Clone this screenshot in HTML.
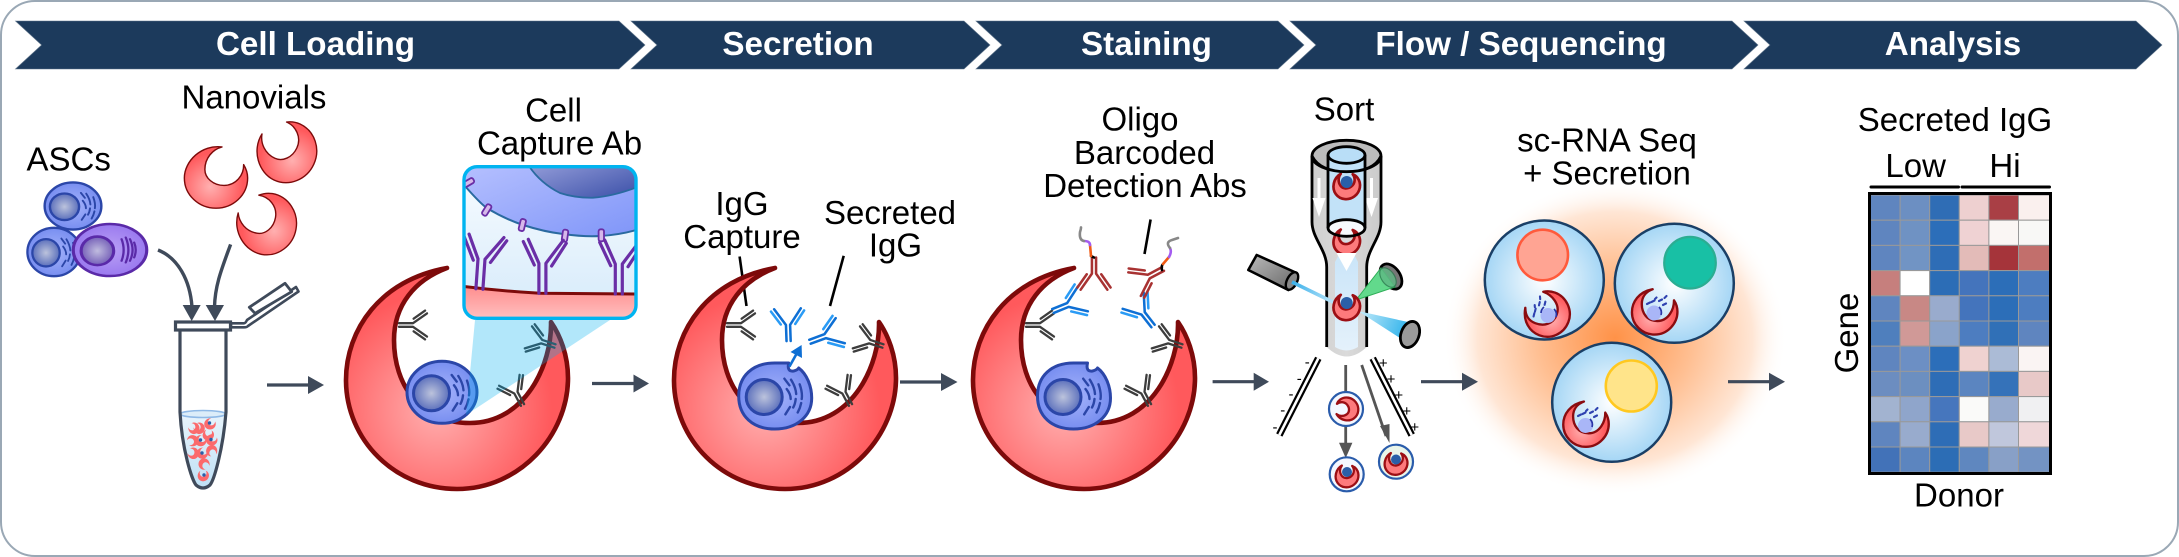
<!DOCTYPE html>
<html><head><meta charset="utf-8"><style>
html,body{margin:0;padding:0;background:#fff}
svg{display:block}
text{font-family:"Liberation Sans",sans-serif;fill:#000;font-size:33px}
.b{font-weight:bold;fill:#fff;font-size:33.2px}
.m{text-anchor:middle}
</style></head><body>
<svg width="2179" height="557" viewBox="0 0 2179 557" xmlns="http://www.w3.org/2000/svg">
<defs>
<radialGradient id="nv" gradientUnits="userSpaceOnUse" cx="-20" cy="30" r="115"><stop offset="0" stop-color="#ffb0b0"/><stop offset="1" stop-color="#ff595c"/></radialGradient>
<radialGradient id="cellg" cx=".5" cy=".5" r=".6"><stop offset="0" stop-color="#a5b3fb"/><stop offset="1" stop-color="#6f87ee"/></radialGradient>
<radialGradient id="purg" cx=".5" cy=".5" r=".6"><stop offset="0" stop-color="#b9a0f5"/><stop offset="1" stop-color="#9472ee"/></radialGradient>
<radialGradient id="nuc"><stop offset="0" stop-color="#bcc3dc"/><stop offset="1" stop-color="#5c70bc"/></radialGradient>
<radialGradient id="nucp"><stop offset="0" stop-color="#c0bcdf"/><stop offset="1" stop-color="#7560b8"/></radialGradient>
<radialGradient id="glow" gradientUnits="userSpaceOnUse" cx="0" cy="0" r="1"><stop offset="0" stop-color="#ff9248"/><stop offset=".45" stop-color="#ffbf92"/><stop offset=".8" stop-color="#ffe6d5"/><stop offset="1" stop-color="#fff" stop-opacity="0"/></radialGradient>
<radialGradient id="well"><stop offset="0" stop-color="#fff"/><stop offset="1" stop-color="#a5d6f5"/></radialGradient>
<linearGradient id="insbg" x1="0" y1="0" x2="0" y2="1"><stop offset="0" stop-color="#f8fcff"/><stop offset="1" stop-color="#d5eafa"/></linearGradient>
<linearGradient id="insc" x1="0" y1="0" x2="1" y2="1"><stop offset="0" stop-color="#b8c2ff"/><stop offset="1" stop-color="#7f95f8"/></linearGradient>
<linearGradient id="insn" x1="0" y1="0" x2="1" y2="1"><stop offset="0" stop-color="#9aa2dc"/><stop offset="1" stop-color="#3a4fa8"/></linearGradient>
<linearGradient id="insr" x1="0" y1="0" x2="0" y2="1"><stop offset="0" stop-color="#ff8d8d"/><stop offset="1" stop-color="#ffcaca"/></linearGradient>
<linearGradient id="liq" x1="0" y1="0" x2="0" y2="1"><stop offset="0" stop-color="#e8f4fc"/><stop offset="1" stop-color="#bfe0f5"/></linearGradient>
<linearGradient id="lasg" x1="0" y1="0" x2="1" y2="1"><stop offset="0" stop-color="#bbb"/><stop offset="1" stop-color="#666"/></linearGradient>
<linearGradient id="scat" gradientUnits="userSpaceOnUse" x1="1358" y1="310" x2="1405" y2="330"><stop offset="0" stop-color="#c8ecfa"/><stop offset="1" stop-color="#38b6ec"/></linearGradient>
<linearGradient id="beam" gradientUnits="userSpaceOnUse" x1="1292" y1="282" x2="1335" y2="302"><stop offset="0" stop-color="#3ab0ea"/><stop offset="1" stop-color="#bde6fa"/></linearGradient>
<linearGradient id="tubeg" x1="0" y1="0" x2="1" y2="0"><stop offset="0" stop-color="#cfcfcf"/><stop offset=".5" stop-color="#dadada"/><stop offset="1" stop-color="#cbcbcb"/></linearGradient>
<linearGradient id="strm" x1="0" y1="0" x2="0" y2="1"><stop offset="0" stop-color="#c6e3f8"/><stop offset="1" stop-color="#e4f1fb"/></linearGradient>
<clipPath id="insclip"><rect x="464" y="166.7" width="172" height="151.6" rx="13"/></clipPath>

<path id="cres" d="M-10 -111C-77 -99 -111 -49 -111 1C-111 61 -62 110 0 110C63 110 111 56 111 -1C111 -24 103 -44 94 -57C95 -14 68 44 13 44C-37 44 -63 6 -63 -39C-63 -74 -42 -99 -10 -111Z" stroke-linejoin="round"/>
<path id="cres2" d="M21 -109C-50 -118 -111 -60 -111 0C-111 60 -60 106 0 106C60 106 111 60 111 0C111 -18 105 -34 97 -47C98 -10 70 26 28 26C-10 26 -39 0 -39 -30C-39 -70 -12 -100 21 -109Z" stroke-linejoin="round"/>
<g id="nano"><use href="#cres" fill="url(#nv)" stroke="#7d0a0a" stroke-width="4.6"/></g>
<g id="gol" fill="none" stroke="#2b46a8" stroke-width="2.4" stroke-linecap="round">
<path d="M9.7 -17.3L14.7 -10.7M16.3 -16.3Q21 -9 21.5 -2M21 3Q20.5 8 18.5 11.5M25 -11.7Q28 -3 27 3M26.5 7Q25.5 12 23 16.5M12 -7Q16 -2 16 3M15.3 11L10.7 18.3"/>
</g>
<g id="cell">
<ellipse cx="0" cy="0" rx="35" ry="31" fill="url(#cellg)" stroke="#2b46a8" stroke-width="3"/>
<ellipse cx="-10.5" cy="1" rx="18" ry="17.5" fill="url(#nuc)" stroke="#2b46a8" stroke-width="3"/>
<use href="#gol"/>
</g>
<g id="cellp">
<ellipse cx="0" cy="0" rx="35" ry="31" fill="url(#purg)" stroke="#5a2aa8" stroke-width="3"/>
<ellipse cx="-12" cy="1" rx="15.5" ry="17" fill="url(#nucp)" stroke="#5a2aa8" stroke-width="3"/>
<g fill="none" stroke="#5a2aa8" stroke-width="2.2" stroke-linecap="round"><path d="M11 -13Q15 0 11 13M15 -15Q20 0 15 15M19 -13Q24 0 19 13M23 -9Q26 0 23 9"/></g>
</g>
<g id="cellN">
<path d="M-36 0C-36 -20 -22 -33 0 -33C6 -33 11 -33 14 -33Q12 -24 19 -25Q23 -26 24 -28C32 -22 37 -10 37 2C37 20 22 33 0 33C-22 33 -36 20 -36 0Z" fill="url(#cellg)" stroke="#2b46a8" stroke-width="3" stroke-linejoin="round"/>
<ellipse cx="-10.5" cy="1" rx="18" ry="17.5" fill="url(#nuc)" stroke="#2b46a8" stroke-width="3"/>
<use href="#gol"/>
</g>
<path id="abh" fill="none" stroke-linecap="round" stroke-linejoin="round" d="M-1.8 0V-14L-11.6 -28M1.8 0V-14L11.6 -28"/>
<path id="abl" fill="none" stroke-linecap="round" d="M-6.3 -14.6L-14.4 -26.1M6.3 -14.6L14.4 -26.1"/>
<g id="abg" stroke="#3d3d3d" stroke-width="2.3"><use href="#abh"/><use href="#abl"/></g>
<g id="abb"><use href="#abh" stroke="#0e6fd4" stroke-width="2.2"/><use href="#abl" stroke="#2a9bf5" stroke-width="2.2"/></g>
<g id="abr" stroke="#a83232" stroke-width="2.2"><use href="#abh"/><use href="#abl"/></g>
<path id="abp" fill="none" stroke="#6a2ea6" stroke-width="3.2" stroke-linecap="round" stroke-linejoin="round" d="M-3.4 0V-30L-14 -54M3.6 0V-30L21 -53M-8 -28.3L-19 -51.7M9.3 -27.3L24 -50"/>
<g id="grays">
<use href="#abg" transform="translate(399 325) rotate(90)"/>
<use href="#abg" transform="translate(555 346) rotate(-72)"/>
<use href="#abg" transform="translate(522.5 405) rotate(-28)"/>
</g>
<g id="mini"><use href="#cres2" fill="#fd7a7c" stroke="#9c0f14" stroke-width="22" transform="rotate(-37) scale(.122)"/></g>
<use id="tm" href="#cres2" fill="#fb6a6c" transform="scale(.052)"/>
<g id="wdots" fill="none" stroke="#2f42b0" stroke-width="2.1" stroke-linecap="round">
<path d="M-9 -10l3 -1.5M-4.5 -12l3 -1.5M3 -13l3 -1.5M7 -9l3 -1.5M8.5 -16l2 -2M-1 -15l1.5 -1.5"/>
</g>
</defs>

<rect width="2179" height="557" fill="#fff"/>
<rect x="1" y="1" width="2177" height="555" rx="34" fill="#fff" stroke="#9aa8b5" stroke-width="2"/>

<!-- banners -->
<g fill="#1c3a5c" stroke="#5d7389" stroke-width=".6">
<polygon points="15.5,21 619,21 645,45 619,69 15.5,69 41.6,45"/>
<polygon points="631,21 964,21 990,45 964,69 631,69 657,45"/>
<polygon points="976,21 1278,21 1304,45 1278,69 976,69 1002,45"/>
<polygon points="1290,21 1732,21 1758,45 1732,69 1290,69 1316,45"/>
<polygon points="1744,21 2136,21 2162,45 2136,69 1744,69 1770,45"/>
</g>
<text class="b m" x="315.5" y="55">Cell Loading</text>
<text class="b m" x="798" y="55">Secretion</text>
<text class="b m" x="1146.5" y="55">Staining</text>
<text class="b m" x="1521" y="55">Flow / Sequencing</text>
<text class="b m" x="1953" y="55">Analysis</text>

<!-- ASCs -->
<text x="26.5" y="170.5">ASCs</text>
<text x="181.5" y="108.3">Nanovials</text>
<use href="#cell" transform="translate(73 206) scale(.81 .76)"/>
<use href="#cell" transform="translate(54 252) scale(.76 .78)"/>
<use href="#cellp" transform="translate(110 250) scale(1.05 .84)"/>

<!-- small nanovials -->
<use href="#cres2" fill="url(#nv)" stroke="#7d0a0a" stroke-width="5" transform="translate(216 178) scale(.285)"/>
<use href="#cres2" fill="url(#nv)" stroke="#7d0a0a" stroke-width="5" transform="translate(287 152) rotate(-65) scale(.278)"/>
<use href="#cres2" fill="url(#nv)" stroke="#7d0a0a" stroke-width="5" transform="translate(267 224) rotate(-80) scale(.278)"/>

<!-- curved arrows -->
<g fill="none" stroke="#3f4a5a" stroke-width="3.4">
<path d="M158 250C178 258 190 280 192 307"/>
<path d="M230.6 244.4C222 268 215 285 214.5 307"/>
</g>
<g fill="#3f4a5a">
<polygon points="182.7,305 200.7,305 191.7,321"/>
<polygon points="205.7,305 224,305 215,321"/>
</g>

<!-- tube -->
<path d="M180 413C182 450 192 480 196 485Q203 491 210 485C214 480 223 450 226 413Z" fill="url(#liq)"/>
<ellipse cx="203" cy="414" rx="23" ry="3.5" fill="#dcedf9" stroke="#8fb9e6" stroke-width="1.6"/>
<use href="#tm" transform="translate(194 428.3) rotate(-90)"/>
<use href="#tm" transform="translate(199.3 428.3) rotate(-90)"/>
<use href="#tm" transform="translate(210 424)"/>
<use href="#tm" transform="translate(208.3 435) rotate(-30)"/>
<use href="#tm" transform="translate(192.7 440.7) rotate(-150)"/>
<use href="#tm" transform="translate(200.7 440.7)"/>
<use href="#tm" transform="translate(211.7 440)"/>
<use href="#tm" transform="translate(193.3 453.3) rotate(-100)"/>
<use href="#tm" transform="translate(202.3 453.3)"/>
<use href="#tm" transform="translate(211.7 450.7) rotate(120)"/>
<use href="#tm" transform="translate(204 464) rotate(100)"/>
<use href="#tm" transform="translate(203.3 475.7) rotate(-40)"/>
<g fill="#2a5fa8"><circle cx="209.5" cy="423" r="1.7"/><circle cx="200.5" cy="440" r="1.7"/><circle cx="211" cy="439.5" r="1.7"/><circle cx="202" cy="453" r="1.7"/><circle cx="204" cy="475" r="1.7"/></g>
<path d="M180 330V412C182 450 192 480 196 485Q203 491 210 485C214 480 223 450 226 412V330" fill="none" stroke="#3f4a5a" stroke-width="3.2"/>
<path d="M247 320L296 287L298.5 291.5L248 326Q247 327.3 244 327.3H231V323.3H244Q245.5 323.3 247 320Z" fill="#fff" stroke="#3f4a5a" stroke-width="2.6" stroke-linejoin="round"/>
<polygon points="249.3,307.3 285,283.3 291.7,291.7 255,313.3" fill="#fff" stroke="#3f4a5a" stroke-width="2.8" stroke-linejoin="round"/>
<rect x="175.5" y="322" width="55" height="8" fill="#fff" stroke="#3f4a5a" stroke-width="3.2"/>

<!-- Nanovial 1 -->
<text class="m" x="553.5" y="121.5">Cell</text>
<text class="m" x="559.5" y="154.5">Capture Ab</text>
<use href="#nano" transform="translate(457 379)"/>
<use href="#grays"/>
<use href="#cell" transform="translate(442 392.3)"/>
<polygon points="475,320 610,320 466,415" fill="#00aeef" opacity=".3"/>

<!-- inset -->
<g clip-path="url(#insclip)">
<rect x="464" y="166" width="172" height="153" fill="url(#insbg)"/>
<path d="M460 175L466.7 188Q480 203 486.7 208Q505 219 523 225Q545 232 563 234Q585 237 600 236Q620 235 640 229V160H460Z" fill="url(#insc)" stroke="#2a6aa0" stroke-width="2"/>
<path d="M528.3 165Q540 183 560 193Q575 198 593 197.7Q615 196 640 186V160H528Z" fill="url(#insn)" stroke="#2a6aa0" stroke-width="1.8"/>
<path d="M460 286Q500 291 540 293.3L640 294V325H460Z" fill="url(#insr)" stroke="#7d0a0a" stroke-width="3"/>
<g fill="#d6b8ea" stroke="#6a2ea6" stroke-width="1.8">
<rect x="-2.7" y="-6" width="5.4" height="12" rx="2" transform="translate(468.3 182.7) rotate(60)"/>
<rect x="-2.7" y="-6" width="5.4" height="12" rx="2" transform="translate(486.7 210) rotate(32)"/>
<rect x="-2.7" y="-6" width="5.4" height="12" rx="2" transform="translate(522.3 225) rotate(14)"/>
<rect x="-2.7" y="-6" width="5.4" height="12" rx="2" transform="translate(565 235.7) rotate(8)"/>
<rect x="-2.7" y="-6" width="5.4" height="12" rx="2" transform="translate(601.3 235.3)"/>
</g>
<use href="#abp" transform="translate(479.3 289) rotate(4)"/>
<use href="#abp" transform="translate(542.3 293.3)"/>
<use href="#abp" transform="translate(618.7 294)"/>
</g>
<rect x="464" y="166.7" width="172" height="151.6" rx="13" fill="none" stroke="#00b4f0" stroke-width="3.4"/>

<!-- Nanovial 2 -->
<text class="m" x="742" y="215">IgG</text>
<text class="m" x="742" y="248">Capture</text>
<text class="m" x="890" y="224">Secreted</text>
<text class="m" x="895.5" y="256.5">IgG</text>
<g stroke="#000" stroke-width="2.6"><line x1="739.6" y1="256.5" x2="746.5" y2="306"/><line x1="843.7" y1="255.8" x2="830" y2="306"/><line x1="1150.6" y1="219.5" x2="1144.5" y2="254"/></g>
<use href="#nano" transform="translate(785 379)"/>
<use href="#grays" transform="translate(328 0)"/>
<use href="#cellN" transform="translate(774.7 396)"/>
<use href="#abb" transform="translate(788.6 341) rotate(-2) scale(1.15)"/>
<use href="#abb" transform="translate(810 341.7) rotate(70) scale(1.15)"/>
<line x1="789.4" y1="366.6" x2="797" y2="353" stroke="#0e6fd4" stroke-width="2.6"/>
<polygon points="801.6,345 802,358 790.5,352" fill="#0e6fd4"/>

<!-- Nanovial 3 -->
<text class="m" x="1140" y="130.7">Oligo</text>
<text class="m" x="1144.5" y="164">Barcoded</text>
<text class="m" x="1145" y="197">Detection Abs</text>
<use href="#nano" transform="translate(1084 379)"/>
<use href="#grays" transform="translate(627 0)"/>
<use href="#cellN" transform="translate(1073.5 396)"/>
<use href="#abb" transform="translate(1053 311) rotate(68) scale(1.15)"/>
<use href="#abb" transform="translate(1153 326) rotate(-38) scale(1.15)"/>
<use href="#abr" transform="translate(1094 257.5) rotate(180) scale(1.15)"/>
<use href="#abr" transform="translate(1163 269) rotate(-118) scale(1.15)"/>
<g fill="none" stroke-width="2.6" stroke-linecap="round">
<path d="M1094 257.5L1091 256" stroke="#000"/>
<path d="M1091 256Q1090.5 250 1090 245" stroke="#f05a14"/>
<path d="M1090 245Q1090 241 1084 241" stroke="#a45cf0"/>
<path d="M1084 241Q1079 240 1080 232Q1081 229 1081 227.4" stroke="#888"/>
<path d="M1162 270Q1161 266 1163 264" stroke="#000"/>
<path d="M1163 264L1169 257" stroke="#f05a14"/>
<path d="M1169 257Q1172 252 1170 248" stroke="#a45cf0"/>
<path d="M1170 248Q1165 242 1172 240L1178 238" stroke="#888"/>
</g>

<!-- Sort -->
<text class="m" x="1344" y="120.7">Sort</text>
<path d="M1312 156V222C1312 238 1326.7 250 1326.7 267V347Q1346.7 366 1366.7 347V267C1366.7 250 1381 238 1381 222V156Z" fill="url(#tubeg)"/>
<path d="M1346.5 240L1358 262V347Q1346.5 354 1335 347V262Z" fill="url(#strm)"/>
<ellipse cx="1346.5" cy="156" rx="34.5" ry="15.7" fill="#bcbcbc" stroke="#000" stroke-width="2.8"/>
<path d="M1312 156V222C1312 238 1326.7 250 1326.7 267V347M1381 156V222C1381 238 1366.7 250 1366.7 267V347" fill="none" stroke="#000" stroke-width="2.8"/>
<polygon points="1317.5,178 1320.5,178 1320.5,198 1325.5,198 1319,217 1312.5,198 1317.5,198" fill="#fff"/>
<polygon points="1370,178 1373,178 1373,198 1378,198 1371.5,217 1365,198 1370,198" fill="#fff"/>
<rect x="1328" y="155" width="37" height="73" fill="#c2e2f8"/>
<ellipse cx="1346.5" cy="228" rx="18.5" ry="8.3" fill="#f6fafd"/>
<use href="#mini" transform="translate(1346.7 241.7)"/>
<polygon points="1336.5,253 1356.5,253 1346.5,271" fill="#fff"/>
<ellipse cx="1346.5" cy="155" rx="18.5" ry="8.3" fill="#b9def7" stroke="#000" stroke-width="2.8"/>
<path d="M1328 155V228A18.5 8.3 0 0 0 1365 228V155" fill="none" stroke="#000" stroke-width="2.8"/>
<path d="M1328 228A18.5 8.3 0 0 1 1365 228" fill="none" stroke="#000" stroke-width="2.8"/>
<use href="#mini" transform="translate(1346.7 186)"/>
<circle cx="1346.7" cy="182" r="6" fill="#2a5fa8"/>
<path d="M1312 156Q1320 171.7 1346.5 171.7Q1374 171.7 1381 156" fill="none" stroke="#000" stroke-width="2.8"/>

<!-- laser -->
<polygon points="1256.7,255 1248.3,270 1288.3,290 1296.7,273" fill="url(#lasg)" stroke="#000" stroke-width="2.6" stroke-linejoin="round"/>
<ellipse cx="1292" cy="281" rx="5" ry="9.5" transform="rotate(27 1292 281)" fill="#888" stroke="#000" stroke-width="2.4"/>
<line x1="1292" y1="282" x2="1335" y2="303" stroke="url(#beam)" stroke-width="3.5"/>
<ellipse cx="1391" cy="276.5" rx="9" ry="14" transform="rotate(-35 1391 276.5)" fill="#777" stroke="#000" stroke-width="2.8"/>
<polygon points="1356,300 1381,268 1395,287" fill="#62d98c" stroke="#2faf58" stroke-width="1"/>
<ellipse cx="1388" cy="277.5" rx="6.5" ry="11" transform="rotate(-35 1388 277.5)" fill="#5fb884" opacity=".8" stroke="#2e7a50" stroke-width="1.2"/>
<polygon points="1358,311 1408,322 1400,338" fill="url(#scat)"/>
<ellipse cx="1410" cy="334.5" rx="9" ry="13.5" transform="rotate(20 1410 334.5)" fill="#9a9a9a" stroke="#000" stroke-width="2.8"/>
<use href="#mini" transform="translate(1346.7 307)"/>
<circle cx="1346.7" cy="303" r="6" fill="#2a5fa8"/>

<!-- plates -->
<line x1="1318.3" y1="358.3" x2="1279.3" y2="435" stroke="#000" stroke-width="7"/>
<line x1="1318.3" y1="358.3" x2="1279.3" y2="435" stroke="#fff" stroke-width="2.6"/>
<line x1="1372.7" y1="358.3" x2="1411.7" y2="435" stroke="#000" stroke-width="7"/>
<line x1="1372.7" y1="358.3" x2="1411.7" y2="435" stroke="#fff" stroke-width="2.6"/>
<text class="m" style="font-size:15px" x="1307.3" y="367">-</text>
<text class="m" style="font-size:15px" x="1299.3" y="383.5">-</text>
<text class="m" style="font-size:15px" x="1291" y="399">-</text>
<text class="m" style="font-size:15px" x="1282.7" y="415">-</text>
<text class="m" style="font-size:15px" x="1275" y="432">-</text>
<text class="m" style="font-size:15px" x="1383.3" y="368">+</text>
<text class="m" style="font-size:15px" x="1391" y="384">+</text>
<text class="m" style="font-size:15px" x="1398.7" y="400">+</text>
<text class="m" style="font-size:15px" x="1406.7" y="416">+</text>
<text class="m" style="font-size:15px" x="1414.7" y="432">+</text>
<!-- sort arrows -->
<g stroke="#555" stroke-width="2.8"><line x1="1345.7" y1="365" x2="1345.7" y2="445"/><line x1="1361.7" y1="365" x2="1386" y2="436"/></g>
<polygon points="1339,442.7 1352.4,442.7 1345.7,458" fill="#555"/>
<polygon points="1380,426 1389.5,424 1389.5,443" fill="#555"/>
<circle cx="1346" cy="409" r="17" fill="#f4f8ff" stroke="#2a5cab" stroke-width="2.2"/>
<use href="#mini" transform="translate(1347 409) rotate(-90) scale(.86)"/>
<circle cx="1346.7" cy="474.3" r="17" fill="#f4f8ff" stroke="#2a5cab" stroke-width="2.2"/>
<use href="#mini" transform="translate(1347 476) scale(.86)"/>
<circle cx="1347" cy="472" r="5" fill="#2a5fa8"/>
<circle cx="1396" cy="461.7" r="17" fill="#eaf5ea" stroke="#2a5cab" stroke-width="2.2"/>
<use href="#mini" transform="translate(1396 463.5) scale(.86)"/>
<circle cx="1396" cy="459.5" r="5" fill="#2a5fa8"/>

<!-- seq -->
<text class="m" x="1607" y="151.7">sc-RNA Seq</text>
<text class="m" x="1607" y="184.3">+ Secretion</text>
<ellipse cx="0" cy="0" rx="1" ry="1" fill="url(#glow)" transform="translate(1615 338) scale(172 158)"/>
<g stroke="#1a3f66" stroke-width="2.5" fill="url(#well)">
<circle cx="1544.3" cy="280" r="59.5"/>
<circle cx="1674.3" cy="283.3" r="59.5"/>
<circle cx="1611.7" cy="402.3" r="59.5"/>
</g>
<circle cx="1542.7" cy="255" r="25.3" fill="#ffa493" stroke="#ff5a3c" stroke-width="2.6"/>
<circle cx="1690" cy="262.7" r="25.8" fill="#18c0a5" stroke="#2bad92" stroke-width="2.2"/>
<circle cx="1631.3" cy="386" r="25.5" fill="#ffe48a" stroke="#ffc820" stroke-width="2.6"/>

<use href="#cres" fill="url(#nv)" stroke="#8a0c10" stroke-width="11.5" transform="translate(1547.3 314) rotate(-69) scale(.205)"/>
<circle cx="1548" cy="315.5" r="7.5" fill="#a9b6f7"/><path d="M1541 313a8 8 0 0 1 3 -6M1554 309a8 8 0 0 1 2 8" fill="none" stroke="#2a35a8" stroke-width="1.7"/>
<use href="#wdots" transform="translate(1547 316) rotate(-50)"/>
<use href="#cres" fill="url(#nv)" stroke="#8a0c10" stroke-width="11.5" transform="translate(1654.7 312) scale(.205)"/>
<circle cx="1654" cy="313" r="7.5" fill="#a9b6f7"/><path d="M1659 307a8 8 0 0 1 2 8" fill="none" stroke="#2a35a8" stroke-width="1.7"/>
<use href="#wdots" transform="translate(1656 314)"/>
<use href="#cres" fill="url(#nv)" stroke="#8a0c10" stroke-width="11.5" transform="translate(1586 424.3) scale(.205)"/>
<circle cx="1585.5" cy="425.5" r="7.5" fill="#a9b6f7"/><path d="M1590 419a8 8 0 0 1 2 8" fill="none" stroke="#2a35a8" stroke-width="1.7"/>
<use href="#wdots" transform="translate(1587 426)"/>

<!-- straight arrows -->
<g stroke="#3f4a5a" stroke-width="3.2">
<line x1="267" y1="385" x2="310" y2="385"/>
<line x1="592" y1="383.5" x2="635" y2="383.5"/>
<line x1="900" y1="382" x2="943" y2="382"/>
<line x1="1212.6" y1="381.7" x2="1255" y2="381.7"/>
<line x1="1421" y1="381.7" x2="1464" y2="381.7"/>
<line x1="1728" y1="381.7" x2="1771" y2="381.7"/>
</g>
<g fill="#3f4a5a">
<polygon points="308,376 324,385 308,394"/>
<polygon points="633.5,374.5 649,383.5 633.5,392.5"/>
<polygon points="941,373 957.5,382 941,391"/>
<polygon points="1253.7,372.7 1269,381.7 1253.7,390.7"/>
<polygon points="1462,372.7 1478,381.7 1462,390.7"/>
<polygon points="1769,372.7 1785,381.7 1769,390.7"/>
</g>

<!-- heatmap -->
<text class="m" x="1955" y="131">Secreted IgG</text>
<text class="m" x="1915.7" y="177">Low</text>
<text class="m" x="2005" y="177">Hi</text>
<g stroke="#000" stroke-width="3" stroke-linecap="round"><line x1="1871" y1="187" x2="1958.5" y2="187"/><line x1="1962" y1="187" x2="2049.5" y2="187"/></g>
<g stroke="#999" stroke-width="1">
<rect x="1870.5" y="195" width="29.6" height="25.2" fill="#5f85bf"/><rect x="1900.1" y="195" width="29.6" height="25.2" fill="#6c8fc2"/><rect x="1929.7" y="195" width="29.6" height="25.2" fill="#2f6db5"/><rect x="1959.3" y="195" width="29.6" height="25.2" fill="#eed0d0"/><rect x="1988.9" y="195" width="29.6" height="25.2" fill="#a93f45"/><rect x="2018.5" y="195" width="31" height="25.2" fill="#faf0ee"/>
<rect x="1870.5" y="220.2" width="29.6" height="25.2" fill="#5f85bf"/><rect x="1900.1" y="220.2" width="29.6" height="25.2" fill="#6f92c3"/><rect x="1929.7" y="220.2" width="29.6" height="25.2" fill="#2c6eb9"/><rect x="1959.3" y="220.2" width="29.6" height="25.2" fill="#efd2d3"/><rect x="1988.9" y="220.2" width="29.6" height="25.2" fill="#faf6f4"/><rect x="2018.5" y="220.2" width="31" height="25.2" fill="#f8f8f6"/>
<rect x="1870.5" y="245.4" width="29.6" height="25.2" fill="#5f85bf"/><rect x="1900.1" y="245.4" width="29.6" height="25.2" fill="#7194c4"/><rect x="1929.7" y="245.4" width="29.6" height="25.2" fill="#2e6db6"/><rect x="1959.3" y="245.4" width="29.6" height="25.2" fill="#e3bbb8"/><rect x="1988.9" y="245.4" width="29.6" height="25.2" fill="#a5343a"/><rect x="2018.5" y="245.4" width="31" height="25.2" fill="#c26f6c"/>
<rect x="1870.5" y="270.6" width="29.6" height="25.2" fill="#c67f7d"/><rect x="1900.1" y="270.6" width="29.6" height="25.2" fill="#ffffff"/><rect x="1929.7" y="270.6" width="29.6" height="25.2" fill="#2c6db6"/><rect x="1959.3" y="270.6" width="29.6" height="25.2" fill="#4474bc"/><rect x="1988.9" y="270.6" width="29.6" height="25.2" fill="#2c6eb8"/><rect x="2018.5" y="270.6" width="31" height="25.2" fill="#4d7dc0"/>
<rect x="1870.5" y="295.8" width="29.6" height="25.2" fill="#5f85bf"/><rect x="1900.1" y="295.8" width="29.6" height="25.2" fill="#c88885"/><rect x="1929.7" y="295.8" width="29.6" height="25.2" fill="#99abcd"/><rect x="1959.3" y="295.8" width="29.6" height="25.2" fill="#4474bc"/><rect x="1988.9" y="295.8" width="29.6" height="25.2" fill="#2c6eb8"/><rect x="2018.5" y="295.8" width="31" height="25.2" fill="#4d7dc0"/>
<rect x="1870.5" y="321" width="29.6" height="25.2" fill="#4f7fbd"/><rect x="1900.1" y="321" width="29.6" height="25.2" fill="#d09997"/><rect x="1929.7" y="321" width="29.6" height="25.2" fill="#8aa3ca"/><rect x="1959.3" y="321" width="29.6" height="25.2" fill="#4d7dc0"/><rect x="1988.9" y="321" width="29.6" height="25.2" fill="#3070b7"/><rect x="2018.5" y="321" width="31" height="25.2" fill="#5f85bf"/>
<rect x="1870.5" y="346.2" width="29.6" height="25.2" fill="#5f85bf"/><rect x="1900.1" y="346.2" width="29.6" height="25.2" fill="#6c8fc4"/><rect x="1929.7" y="346.2" width="29.6" height="25.2" fill="#2c6eb9"/><rect x="1959.3" y="346.2" width="29.6" height="25.2" fill="#efd2d0"/><rect x="1988.9" y="346.2" width="29.6" height="25.2" fill="#abbbd6"/><rect x="2018.5" y="346.2" width="31" height="25.2" fill="#faf4f3"/>
<rect x="1870.5" y="371.4" width="29.6" height="25.2" fill="#6c8dc0"/><rect x="1900.1" y="371.4" width="29.6" height="25.2" fill="#6c8fc0"/><rect x="1929.7" y="371.4" width="29.6" height="25.2" fill="#2e6db6"/><rect x="1959.3" y="371.4" width="29.6" height="25.2" fill="#5b85c0"/><rect x="1988.9" y="371.4" width="29.6" height="25.2" fill="#3572b9"/><rect x="2018.5" y="371.4" width="31" height="25.2" fill="#e8c9c8"/>
<rect x="1870.5" y="396.6" width="29.6" height="25.2" fill="#a2b3d0"/><rect x="1900.1" y="396.6" width="29.6" height="25.2" fill="#8fa5cb"/><rect x="1929.7" y="396.6" width="29.6" height="25.2" fill="#4676bd"/><rect x="1959.3" y="396.6" width="29.6" height="25.2" fill="#fafaf9"/><rect x="1988.9" y="396.6" width="29.6" height="25.2" fill="#98abcd"/><rect x="2018.5" y="396.6" width="31" height="25.2" fill="#f0f0f2"/>
<rect x="1870.5" y="421.8" width="29.6" height="25.2" fill="#5f85bf"/><rect x="1900.1" y="421.8" width="29.6" height="25.2" fill="#98abcd"/><rect x="1929.7" y="421.8" width="29.6" height="25.2" fill="#2e6db6"/><rect x="1959.3" y="421.8" width="29.6" height="25.2" fill="#e8c9c8"/><rect x="1988.9" y="421.8" width="29.6" height="25.2" fill="#c0c7dc"/><rect x="2018.5" y="421.8" width="31" height="25.2" fill="#efd7d9"/>
<rect x="1870.5" y="447" width="29.6" height="25.2" fill="#4272b8"/><rect x="1900.1" y="447" width="29.6" height="25.2" fill="#5c85bf"/><rect x="1929.7" y="447" width="29.6" height="25.2" fill="#2c6db5"/><rect x="1959.3" y="447" width="29.6" height="25.2" fill="#5f87bf"/><rect x="1988.9" y="447" width="29.6" height="25.2" fill="#88a0c7"/><rect x="2018.5" y="447" width="31" height="25.2" fill="#7393c3"/>
</g>
<rect x="1869.5" y="193.5" width="181" height="280" fill="none" stroke="#000" stroke-width="3"/>
<text class="m" x="1959" y="506.7">Donor</text>
<text class="m" transform="translate(1858 333) rotate(-90)">Gene</text>
</svg>
</body></html>
